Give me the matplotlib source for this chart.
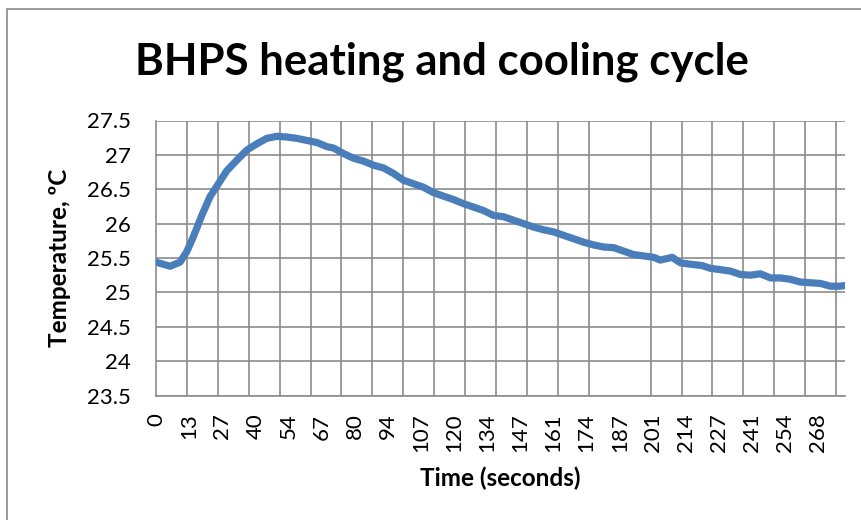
import numpy as np
import matplotlib
matplotlib.use('Agg')
import matplotlib.pyplot as plt
from matplotlib.patches import Rectangle

# readings (time in seconds, temperature in degC) taken off the chart
time_s = [0.0, 5.7, 9.7, 12.4, 15.1, 18.5, 21.8, 25.2, 28.6, 32.6,
          36.7, 40.7, 44.7, 48.8, 52.8, 56.9, 60.9, 65.0, 69.0, 71.7,
          75.7, 79.8, 83.8, 87.8, 91.9, 95.9, 100.0, 104.0, 108.0, 112.1,
          116.1, 120.2, 124.2, 128.3, 132.3, 136.3, 140.4, 144.4, 148.5, 152.5,
          156.6, 160.6, 164.6, 168.7, 172.7, 176.8, 180.8, 184.9, 188.9, 192.9,
          197.0, 201.0, 203.7, 208.5, 211.8, 215.8, 220.6, 223.9, 228.0, 232.0,
          236.1, 240.1, 244.1, 248.2, 252.2, 256.3, 260.3, 264.4, 268.4, 272.4,
          276.5, 278.3]
temp_c = [25.44, 25.38, 25.44, 25.59, 25.81, 26.12, 26.39, 26.58, 26.77, 26.92,
          27.07, 27.16, 27.24, 27.27, 27.26, 27.24, 27.21, 27.18, 27.12, 27.10,
          27.02, 26.95, 26.91, 26.85, 26.81, 26.73, 26.63, 26.58, 26.53, 26.45,
          26.40, 26.35, 26.29, 26.24, 26.19, 26.12, 26.10, 26.05, 26.00, 25.95,
          25.91, 25.88, 25.83, 25.78, 25.73, 25.69, 25.66, 25.65, 25.60, 25.55,
          25.53, 25.51, 25.47, 25.51, 25.43, 25.41, 25.39, 25.35, 25.33, 25.31,
          25.26, 25.25, 25.27, 25.21, 25.21, 25.19, 25.15, 25.14, 25.13, 25.09,
          25.09, 25.10]
tick_labels = ['0', '13', '27', '40', '54', '67', '80', '94', '107', '120', '134',
               '147', '161', '174', '187', '201', '214', '227', '241', '254', '268']
y_ticks = [23.5, 24, 24.5, 25, 25.5, 26, 26.5, 27, 27.5]

dt = 0.892          # sample interval, s
n_points = 313
label_step = 15
grid_step = 14

plt.rcParams['font.family'] = ['Lato', 'DejaVu Sans']
grid_col = '#8c8c8c'

fig = plt.figure(figsize=(8.62, 5.2), dpi=100)
ax = fig.add_axes([156 / 862, 1 - 395.5 / 520, 689 / 862, 275 / 520])

ax.plot(time_s, temp_c, color='#4A7EBB', lw=5.2,
        solid_capstyle='round', solid_joinstyle='round', zorder=3)

ax.set_xlim(0, (n_points - 1) * dt)
ax.set_ylim(23.5, 27.5)
ax.set_yticks(y_ticks)
ax.set_yticklabels(['%g' % v for v in y_ticks])
ax.set_xticks(np.arange(len(tick_labels)) * label_step * dt)
ax.set_xticklabels(tick_labels, rotation=90)
ax.set_xticks(np.arange(0, n_points, grid_step) * dt, minor=True)

ax.set_axisbelow(True)
ax.grid(True, which='minor', axis='x', color=grid_col, lw=1.2)
ax.grid(True, which='major', axis='y', color=grid_col, lw=1.2)
ax.grid(False, which='major', axis='x')
ax.tick_params(which='both', length=0)
ax.tick_params(axis='y', pad=18, labelsize=16)
ax.tick_params(axis='x', pad=13, labelsize=16)
for s in ['top', 'right']:
    ax.spines[s].set_visible(False)
for s in ['left', 'bottom']:
    ax.spines[s].set_color(grid_col)
    ax.spines[s].set_linewidth(1.2)

fig.text(442 / 862, 1 - 62 / 520, 'BHPS heating and cooling cycle',
         ha='center', va='center', fontsize=31.5, fontweight='bold')
fig.text(500 / 862, 1 - 478 / 520, 'Time (seconds)',
         ha='center', va='center', fontsize=17.5, fontweight='bold')
fig.text(60 / 862, 1 - 258 / 520, 'Temperature, ºC', rotation=90,
         ha='center', va='center', fontsize=17.5, fontweight='bold')

# chart-area border (runs off the right and bottom of the image)
fig.patches.append(Rectangle((7 / 862, -0.1), 1.2, 0.1 + 1 - 9 / 520,
                             transform=fig.transFigure, fill=False,
                             edgecolor='#8a8a8a', lw=1.2))

fig.savefig('out.png', dpi=100)
